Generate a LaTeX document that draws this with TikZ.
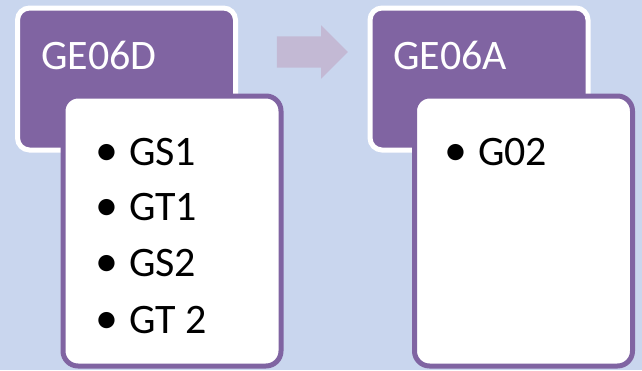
\documentclass[tikz,border=0pt]{standalone}
\usepackage{fontspec}
\setmainfont{Carlito}
\usetikzlibrary{shapes.arrows}
\definecolor{bgblue}{HTML}{C9D6EE}
\definecolor{lav}{HTML}{8064A2}
\definecolor{arrowc}{HTML}{C3B9D4}
\newcommand{\bigbul}{{\fontsize{46}{48}\selectfont •}\hspace{11pt}}
\tikzset{
  pbox/.style={draw=white, line width=5pt, fill=lav, rounded corners=12pt, inner sep=0pt},
  wbox/.style={draw=lav, line width=5pt, fill=white, rounded corners=15pt, inner sep=0pt},
  htext/.style={text=white, anchor=west, inner sep=0pt, font=\fontsize{42}{48}\selectfont},
  item/.style={text=black, anchor=west, inner sep=0pt, font=\fontsize{42}{48}\selectfont},
  blockarrow/.style={single arrow, fill=arrowc, draw=none, inner sep=0pt,
    minimum height=71pt, minimum width=53pt, single arrow head extend=11pt,
    single arrow head indent=0pt}
}
\begin{document}
\begin{tikzpicture}[x=1pt,y=-1pt]
\fill[bgblue] (0,0) rectangle (642,370);
\useasboundingbox (0,0) rectangle (642,370);
% left group
\node[pbox, minimum width=218pt, minimum height=142pt] (h1) at (126.5,79) {};
\node[wbox, minimum width=218pt, minimum height=270pt] (b1) at (172,231) {};
\node[htext] (t1) at (41,55) {GE06D};
\node[item] (i1) at (95,152) {\bigbul GS1};
\node[item] (i2) at (95,207) {\bigbul GT1};
\node[item] (i3) at (95,263) {\bigbul GS2};
\node[item] (i4) at (95,320) {\bigbul GT 2};
% arrow
\node[blockarrow] (ar) at (304.5,52) {\rule{0pt}{31pt}};
% right group
\node[pbox, minimum width=218pt, minimum height=142pt] (h2) at (479,79) {};
\node[wbox, minimum width=218pt, minimum height=270pt] (b2) at (523.5,231) {};
\node[htext] (t2) at (393,55) {GE06A};
\node[item] (j1) at (444,152) {\bigbul G02};
\end{tikzpicture}
\end{document}
